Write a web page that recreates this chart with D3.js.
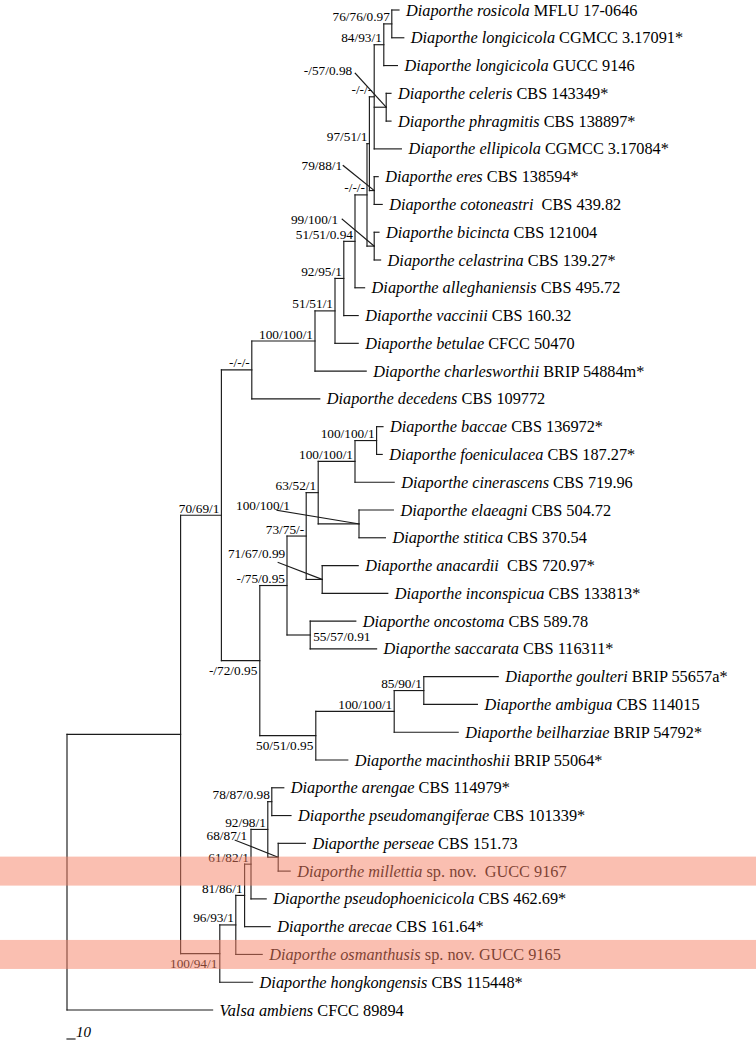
<!DOCTYPE html>
<html><head><meta charset="utf-8">
<script src="https://cdn.jsdelivr.net/npm/d3@7"></script>
<style>
body{margin:0;background:#fff}
text{white-space:pre}
</style>
</head><body>
<svg id="chart" width="756" height="1042"></svg>
<script>
// ---- DATA ----
// tree nodes in pre-order: id, parent, branch length (steps), support (ML/MP/PP)
const nodeIds = ["R0","I","A","B","D","E","F","G","H","P","M","L","K","t0","t1","t2","N","t3","t4","t5","R","t6","t7","J","t8","t9","t10","t11","t12","t13","t14",
  "C","S","U","W","Y","AA","t15","t16","t17","Z","t18","t19","X","t20","t21","V","t22","t23","T","AB","II","t24","t25","t26","t27",
  "BB","CC","HH","GG","EE","DD","t28","t29","FF","t30","t31","t32","t33","t34","t35","t36"];
const parentIds = ["","R0","I","A","B","D","E","F","G","H","P","M","L","K","K","L","M","N","N","M","P","R","R","H","J","J","G","F","E","D","B",
  "A","C","S","U","W","Y","AA","AA","Y","W","Z","Z","U","X","X","S","V","V","C","T","AB","II","II","AB","T",
  "I","BB","CC","HH","GG","EE","DD","DD","EE","FF","FF","GG","HH","CC","BB","R0"];
const branchLengths = [0,142,51,38,79,25,11,14,15,3,6,12,10,9,15,17,15,6,6,34,6,5,10,9,6,8,12,18,29,64,85,
  48,34,24,15,46,27,8,7,49,51,43,33,20,45,82,29,57,83,70,98,37,93,67,80,40,
  49,20,11,8,21,5,15,24,13,34,15,19,32,33,41,182];
const supportValues = ["","","70/69/1","-/-/-","100/100/1","51/51/1","92/95/1","51/51/0.94","-/-/-","97/51/1","-/-/-","84/93/1","76/76/0.97","","","","-/57/0.98","","","","79/88/1","","","99/100/1","","","","","","","",
  "-/72/0.95","-/75/0.95","73/75/-","63/52/1","100/100/1","100/100/1","","","","100/100/1","","","71/67/0.99","","","55/57/0.91","","","50/51/0.95","100/100/1","85/90/1","","","","",
  "100/94/1","96/93/1","81/86/1","61/82/1","92/98/1","78/87/0.98","","","68/87/1","","","","","","",""];

// tip labels in tree order
const tipSpecies = ["Diaporthe rosicola","Diaporthe longicicola","Diaporthe longicicola","Diaporthe celeris","Diaporthe phragmitis","Diaporthe ellipicola",
  "Diaporthe eres","Diaporthe cotoneastri","Diaporthe bicincta","Diaporthe celastrina","Diaporthe alleghaniensis","Diaporthe vaccinii","Diaporthe betulae",
  "Diaporthe charlesworthii","Diaporthe decedens","Diaporthe baccae","Diaporthe foeniculacea","Diaporthe cinerascens","Diaporthe elaeagni","Diaporthe stitica",
  "Diaporthe anacardii","Diaporthe inconspicua","Diaporthe oncostoma","Diaporthe saccarata","Diaporthe goulteri","Diaporthe ambigua","Diaporthe beilharziae",
  "Diaporthe macinthoshii","Diaporthe arengae","Diaporthe pseudomangiferae","Diaporthe perseae","Diaporthe millettia","Diaporthe pseudophoenicicola",
  "Diaporthe arecae","Diaporthe osmanthusis","Diaporthe hongkongensis","Valsa ambiens"];
const tipStrains = ["MFLU 17-0646","CGMCC 3.17091*","GUCC 9146","CBS 143349*","CBS 138897*","CGMCC 3.17084*","CBS 138594*"," CBS 439.82","CBS 121004",
  "CBS 139.27*","CBS 495.72","CBS 160.32","CFCC 50470","BRIP 54884m*","CBS 109772","CBS 136972*","CBS 187.27*","CBS 719.96","CBS 504.72","CBS 370.54",
  " CBS 720.97*","CBS 133813*","CBS 589.78","CBS 116311*","BRIP 55657a*","CBS 114015","BRIP 54792*","BRIP 55064*","CBS 114979*","CBS 101339*","CBS 151.73",
  "sp. nov.  GUCC 9167","CBS 462.69*","CBS 161.64*","sp. nov. GUCC 9165","CBS 115448*","CFCC 89894"];
const highlightedTips = [31, 34];   // new species
const scaleBarLength = 10;
const scaleBarLabel = "10";

// ---- LAYOUT ----
const svg = d3.select("#chart");
const serif = "'Liberation Serif','Times New Roman',Times,serif";
const tipFont = 16.3, supFont = 13.3;

const rows = nodeIds.map((id,i)=>({id, parent: parentIds[i] || null, len: branchLengths[i], sup: supportValues[i]}));
const root = d3.stratify().id(d=>d.id).parentId(d=>d.parent)(rows);

const x = d3.scaleLinear().domain([0, scaleBarLength]).range([67, 75]);
const y = d3.scaleLinear().domain([0, tipSpecies.length - 1]).range([10, 1010]);

root.each(n => { n.dist = (n.parent ? n.parent.dist : 0) + n.data.len; });
let leafIdx = 0;
root.eachBefore(n => { if (!n.children) n.tip = leafIdx++; });
root.eachAfter(n => {
  n.px = x(n.dist);
  if (!n.children) n.py = y(n.tip);
  else n.py = (n.children[0].py + n.children[n.children.length-1].py) / 2;
});

const g = svg.append("g");
const lineStyle = s => s.attr("stroke","#1b1b1b").attr("stroke-width",1.15).attr("fill","none").attr("stroke-linecap","square");

// horizontal branches
g.selectAll("line.h").data(root.descendants().filter(n=>n.parent)).join("line")
  .attr("x1", n=>n.parent.px).attr("x2", n=>n.px).attr("y1", n=>n.py).attr("y2", n=>n.py).call(lineStyle);
// vertical connectors
g.selectAll("line.v").data(root.descendants().filter(n=>n.children)).join("line")
  .attr("x1", n=>n.px).attr("x2", n=>n.px)
  .attr("y1", n=>n.children[0].py).attr("y2", n=>n.children[n.children.length-1].py).call(lineStyle);

// tip labels
const leaves = root.leaves();
const tl = g.selectAll("text.tip").data(leaves).join("text")
  .attr("x", n=>n.px + 7).attr("y", n=>n.py + 5.5)
  .attr("font-family", serif).attr("font-size", tipFont).attr("fill","#000");
tl.append("tspan").attr("font-style","italic").text(n=>tipSpecies[n.tip]);
tl.append("tspan").text(n=>" " + tipStrains[n.tip]);

// support labels
const below = new Set(["C","T","BB"]);
const rightSide = new Set(["V"]);
const callouts = {
  N: {tx:-34, ty:-32.5, px:-31, py:-34},
  R: {tx:-32, ty:-20.5, px:-31, py:-25},
  J: {tx:-36, ty:-22.5, px:-32, py:-27},
  Z: {tx:-69, ty:-14,   px:-82, py:-13.5},
  X: {tx:-37, ty:-21.5, px:-44, py:-17},
  FF:{tx:-31, ty:-17,   px:-43, py:-17}
};
const internals = root.descendants().filter(n=>n.data.sup);
internals.forEach(n=>{
  const id = n.id; let tx, ty, anchor = "end";
  if (callouts[id]) {
    const c = callouts[id];
    tx = n.px + c.tx; ty = n.py + c.ty;
    g.append("line").attr("x1", n.px + c.px).attr("y1", n.py + c.py).attr("x2", n.px).attr("y2", n.py).call(lineStyle);
  } else if (below.has(id)) { tx = n.px - 2.5; ty = n.py + 14.5; }
  else if (rightSide.has(id)) { tx = n.px + 3; ty = n.py + 5.5; anchor = "start"; }
  else { tx = n.px - 2; ty = n.py - 2.5; }
  g.append("text").attr("x", tx).attr("y", ty).attr("text-anchor", anchor)
    .attr("font-family", serif).attr("font-size", supFont).attr("fill","#000").text(n.data.sup);
});

// scale bar
g.append("line").attr("x1", x(0)).attr("x2", x(scaleBarLength)).attr("y1", 1039).attr("y2", 1039).call(lineStyle);
g.append("text").attr("x", x(scaleBarLength) + 1).attr("y", 1037).attr("font-family", serif)
  .attr("font-style","italic").attr("font-size", 15).text(scaleBarLabel);

// highlight bands for new species
svg.selectAll("rect.band").data(highlightedTips).join("rect")
  .attr("x", 0).attr("width", 756).attr("y", i=>y(i) - 14.5).attr("height", 29)
  .attr("fill", "rgb(245,128,100)").attr("opacity", 0.5);
</script>
</body></html>
